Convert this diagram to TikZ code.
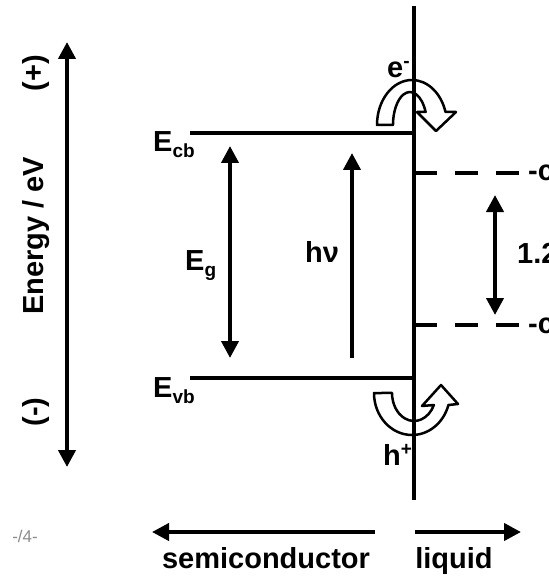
\documentclass[tikz,border=0pt]{standalone}
\usepackage{fontspec}
\setmainfont{Liberation Sans}
\usetikzlibrary{arrows.meta,positioning}
\newcommand{\lblfont}{\fontsize{29}{30}\selectfont\bfseries}
\newcommand{\subsc}[1]{\raisebox{-6pt}{\fontsize{19}{19}\selectfont #1}}
\newcommand{\supsc}[1]{\raisebox{10pt}{\fontsize{19}{19}\selectfont #1}}
\tikzset{
  ln/.style={line width=4pt, draw=black},
  ar/.style={ln, -{Triangle[length=17pt,width=17pt]}},
  dar/.style={ln, {Triangle[length=17pt,width=17pt]}-{Triangle[length=17pt,width=17pt]}},
  dsh/.style={ln, dash pattern=on 23pt off 18pt},
  lbl/.style={font=\lblfont, inner sep=0pt},
  turn/.style={draw=black, fill=white, line width=2.5pt, line join=round},
}

\begin{document}
\begin{tikzpicture}[x=1pt, y=-1pt]

\clip (0,0) rectangle (548,577);

% ---- energy axis ----
\coordinate (eTop) at (67,42);
\coordinate (eBot) at (67,467);
\draw[dar] (eBot) -- (eTop);
\node[lbl, rotate=90, anchor=base] (plus)   at (43,73)  {(+)};
\node[lbl, rotate=90, anchor=base] (energy) at (43,236) {Energy / eV};
\node[lbl, rotate=90, anchor=base] (minus)  at (43,412) {(-)};

% ---- band edges ----
\coordinate (cbL) at (190,133);
\coordinate (cbR) at (414,133);
\coordinate (vbL) at (190,378);
\coordinate (vbR) at (414,378);
\draw[ln] (cbL) -- (cbR);
\draw[ln] (vbL) -- (vbR);
\node[lbl, anchor=base west] (ecb) at (153,152) {E\subsc{cb}};
\node[lbl, anchor=base west] (evb) at (153,397) {E\subsc{vb}};

% ---- gap and photon ----
\coordinate (gTop) at (230,146);
\coordinate (gBot) at (230,358);
\draw[dar] (gBot) -- (gTop);
\node[lbl, anchor=base west] (eg) at (185,270) {E\subsc{g}};

\coordinate (hvBot) at (352,358);
\coordinate (hvTop) at (352,153);
\draw[ar] (hvBot) -- (hvTop);
\node[lbl, anchor=base west] (hv) at (305,262) {hν};

% ---- redox levels ----
\coordinate (r1) at (414,173);
\coordinate (r1e) at (523,173);
\coordinate (r2) at (414,325);
\coordinate (r2e) at (523,325);
\draw[dsh] (r1) -- (r1e);
\draw[dsh] (r2) -- (r2e);
\node[lbl, anchor=base west] (ox1) at (528,181) {-c};
\node[lbl, anchor=base west] (ox2) at (528,333) {-c};

\coordinate (wTop) at (495,195);
\coordinate (wBot) at (495,315);
\draw[dar] (wBot) -- (wTop);
\node[lbl, anchor=base west] (dE) at (517,263) {1.2};

% ---- charge transfer arrows ----
\draw[turn] (377,125) arc[start angle=180, end angle=343.2, x radius=35, y radius=45]
  -- (456,112) -- (436,131) -- (417,112) -- (425.6,112)
  arc[start angle=336.8, end angle=180, x radius=17, y radius=33] -- cycle;
\draw[turn] (374,393) arc[start angle=180, end angle=16.6, x radius=38, y radius=42]
  -- (458,404) -- (441,385) -- (422,406) -- (433.9,405)
  arc[start angle=25.4, end angle=180, x radius=22, y radius=28] -- cycle;
\node[lbl, anchor=base west] (el) at (387,78)  {e\supsc{-}};
\node[lbl, anchor=base west] (ho) at (383,465) {h\supsc{+}};

% ---- interface ----
\coordinate (ifTop) at (414,6);
\coordinate (ifBot) at (414,500);
\draw[ln] (ifTop) -- (ifBot);

% ---- phases ----
\coordinate (scR) at (375,532);
\coordinate (scL) at (152,532);
\coordinate (lqL) at (415,532);
\coordinate (lqR) at (521,532);
\draw[ar] (scR) -- (scL);
\draw[ar] (lqL) -- (lqR);
\node[lbl, anchor=base] (sc) at (266,568) {semiconductor};
\node[lbl, anchor=base] (lq) at (454,568) {liquid};

\node[font=\fontsize{17}{17}\selectfont, text=black!45, inner sep=0pt, anchor=base east] (pg) at (38,542) {-/4-};

\end{tikzpicture}
\end{document}
